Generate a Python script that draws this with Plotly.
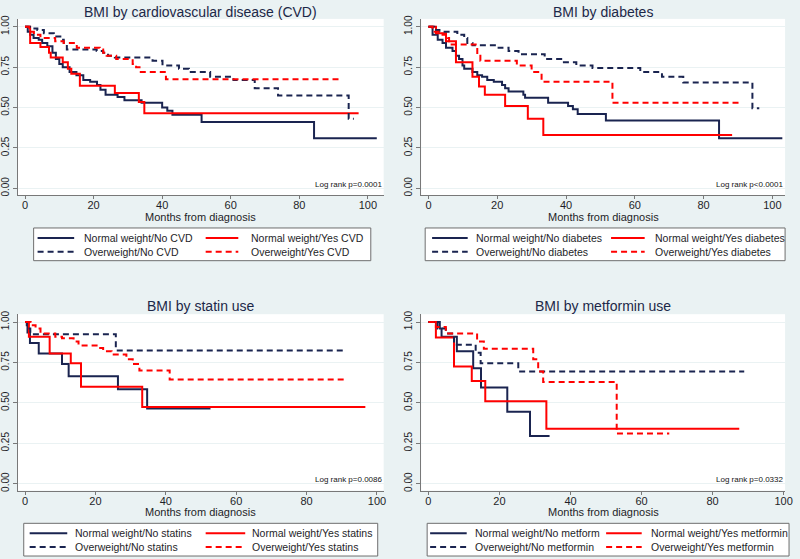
import plotly.graph_objects as go

# --- Data: Kaplan-Meier step curves (months, survival) ---
CVD_NW_NO_T = [0, 0.8, 1.5, 2.5, 4, 5, 6.5, 8, 9, 10, 11, 13, 15, 17, 19, 21, 22, 23.5, 27, 29, 34, 40, 41.5, 43, 51.5, 84.3, 102.6]
CVD_NW_NO_S = [1.0, 0.97, 0.95, 0.93, 0.92, 0.90, 0.88, 0.84, 0.80, 0.77, 0.75, 0.72, 0.70, 0.67, 0.66, 0.64, 0.61, 0.58, 0.565, 0.545, 0.53, 0.50, 0.48, 0.455, 0.41, 0.31, 0.31]
CVD_NW_YES_T = [0, 1.5, 4.5, 7, 7.5, 11, 12.5, 13.5, 16, 26.2, 33.2, 34.8, 97.3]
CVD_NW_YES_S = [1.0, 0.90, 0.875, 0.84, 0.81, 0.78, 0.74, 0.71, 0.635, 0.59, 0.535, 0.465, 0.465]
CVD_OW_NO_T = [0, 2, 3.6, 5.5, 8.4, 10.3, 11.3, 12.2, 20.9, 22.8, 24.2, 26.2, 37.2, 40.1, 44.9, 47.8, 54, 60.8, 67, 73.8, 94.4, 95.9]
CVD_OW_NO_S = [1.0, 0.99, 0.98, 0.96, 0.94, 0.92, 0.89, 0.86, 0.85, 0.84, 0.82, 0.81, 0.79, 0.76, 0.74, 0.72, 0.69, 0.67, 0.62, 0.575, 0.43, 0.43]
CVD_OW_YES_T = [0, 1.2, 2.6, 4.5, 8.8, 11.3, 15.1, 21.8, 22.8, 23.8, 26.6, 31.4, 32.4, 33.4, 41.1, 92]
CVD_OW_YES_S = [1.0, 0.97, 0.95, 0.93, 0.91, 0.90, 0.87, 0.86, 0.84, 0.82, 0.80, 0.77, 0.75, 0.72, 0.675, 0.675]

DM_NW_NO_T = [0, 1.2, 2.7, 4.1, 5.1, 7.0, 8.0, 8.9, 9.9, 10.4, 12.8, 14.2, 15.6, 17.1, 19.0, 21.4, 22.3, 23.3, 27.6, 28.1, 34.8, 40.6, 42.0, 43.4, 51.6, 84.5, 102.9]
DM_NW_NO_S = [1.0, 0.95, 0.92, 0.90, 0.87, 0.85, 0.82, 0.80, 0.76, 0.74, 0.72, 0.70, 0.69, 0.67, 0.66, 0.64, 0.62, 0.60, 0.58, 0.56, 0.53, 0.51, 0.49, 0.46, 0.42, 0.31, 0.31]
DM_NW_YES_T = [0, 2.2, 5.1, 8.0, 12.8, 14.7, 16.4, 22.3, 28.9, 33.4, 88.3]
DM_NW_YES_S = [1.0, 0.96, 0.91, 0.78, 0.69, 0.63, 0.58, 0.51, 0.43, 0.33, 0.33]
DM_OW_NO_T = [0, 1.7, 3.2, 8.4, 10.4, 11.3, 12.8, 20.4, 23.3, 26.2, 33.8, 38.6, 43.0, 47.7, 61.6, 67.9, 74.1, 94.2, 96.2]
DM_OW_NO_S = [1.0, 0.98, 0.97, 0.95, 0.93, 0.90, 0.885, 0.87, 0.85, 0.83, 0.80, 0.78, 0.76, 0.745, 0.72, 0.69, 0.655, 0.495, 0.495]
DM_OW_YES_T = [0, 1.2, 4.1, 5.6, 6.0, 14.2, 15.1, 25.7, 30.0, 32.9, 53.5, 90.4]
DM_OW_YES_S = [1.0, 0.97, 0.95, 0.93, 0.89, 0.82, 0.79, 0.76, 0.72, 0.66, 0.53, 0.53]

ST_NW_NO_T = [0, 0.7, 1.4, 3.9, 10.5, 12.4, 26.4, 34.7, 52.7]
ST_NW_NO_S = [1.0, 0.935, 0.87, 0.805, 0.74, 0.665, 0.585, 0.465, 0.465]
ST_NW_YES_T = [0, 1.1, 7.0, 13.0, 15.9, 33.3, 96.7]
ST_NW_YES_S = [1.0, 0.91, 0.805, 0.745, 0.60, 0.475, 0.475]
ST_OW_NO_T = [0, 0.5, 1.5, 25.8, 91.1]
ST_OW_NO_S = [1.0, 0.96, 0.925, 0.825, 0.825]
ST_OW_YES_T = [0, 1.6, 3.0, 4.4, 8.6, 10.5, 13.8, 15.2, 20.8, 22.2, 24.6, 28.8, 30.6, 32.5, 41.1, 91.1]
ST_OW_YES_S = [1.0, 0.98, 0.96, 0.93, 0.91, 0.90, 0.88, 0.855, 0.84, 0.82, 0.80, 0.77, 0.74, 0.70, 0.645, 0.645]

MF_NW_NO_T = [0, 3.2, 3.7, 8.0, 12.6, 14.8, 22.2, 28.6, 34.1]
MF_NW_NO_S = [1.0, 0.96, 0.91, 0.82, 0.715, 0.595, 0.445, 0.295, 0.295]
MF_NW_YES_T = [0, 2.1, 7.2, 12.2, 16.0, 33.2, 87.5]
MF_NW_YES_S = [1.0, 0.905, 0.725, 0.635, 0.51, 0.34, 0.34]
MF_OW_NO_T = [0, 2.6, 4.9, 7.2, 13.3, 14.7, 25.3, 88.9]
MF_OW_NO_S = [1.0, 0.96, 0.93, 0.86, 0.81, 0.745, 0.695, 0.695]
MF_OW_YES_T = [0, 2.1, 4.9, 13.7, 15.6, 29.5, 30.9, 32.3, 53.0, 67.8]
MF_OW_YES_S = [1.0, 0.97, 0.93, 0.88, 0.835, 0.77, 0.695, 0.63, 0.31, 0.31]

TITLES = ["BMI by cardiovascular disease (CVD)", "BMI by diabetes", "BMI by statin use", "BMI by metformin use"]
LOGRANK = ["Log rank p=0.0001", "Log rank p<0.0001", "Log rank p=0.0086", "Log rank p=0.0332"]
CVD_LABELS = ["Normal weight/No CVD", "Normal weight/Yes CVD", "Overweight/No CVD", "Overweight/Yes CVD"]
DM_LABELS = ["Normal weight/No diabetes", "Normal weight/Yes diabetes", "Overweight/No diabetes", "Overweight/Yes diabetes"]
ST_LABELS = ["Normal weight/No statins", "Normal weight/Yes statins", "Overweight/No statins", "Overweight/Yes statins"]
MF_LABELS = ["Normal weight/No metform", "Normal weight/Yes metformin", "Overweight/No metformin", "Overweight/Yes metformin"]
X_TICKS = [0, 20, 40, 60, 80, 100]
Y_TICKS = [0, 0.25, 0.5, 0.75, 1.0]
X_TITLE = "Months from diagnosis"

# --- Style ---
W, H = 800, 559
BG = 'rgb(234,242,243)'
NAVY = 'rgb(26,36,80)'
RED = 'rgb(255,0,0)'
AXIS_COLOR = 'rgb(120,120,120)'
GRID = 'rgb(234,242,243)'
TEXT = 'rgb(30,30,40)'
TITLE_COLOR = 'rgb(28,40,72)'
FONT = 'Arial, Liberation Sans, sans-serif'
DASH = '6px,4px'
STYLES = [(NAVY, 'solid'), (RED, 'solid'), (NAVY, DASH), (RED, DASH)]

curves = [
    [(CVD_NW_NO_T, CVD_NW_NO_S), (CVD_NW_YES_T, CVD_NW_YES_S), (CVD_OW_NO_T, CVD_OW_NO_S), (CVD_OW_YES_T, CVD_OW_YES_S)],
    [(DM_NW_NO_T, DM_NW_NO_S), (DM_NW_YES_T, DM_NW_YES_S), (DM_OW_NO_T, DM_OW_NO_S), (DM_OW_YES_T, DM_OW_YES_S)],
    [(ST_NW_NO_T, ST_NW_NO_S), (ST_NW_YES_T, ST_NW_YES_S), (ST_OW_NO_T, ST_OW_NO_S), (ST_OW_YES_T, ST_OW_YES_S)],
    [(MF_NW_NO_T, MF_NW_NO_S), (MF_NW_YES_T, MF_NW_YES_S), (MF_OW_NO_T, MF_OW_NO_S), (MF_OW_YES_T, MF_OW_YES_S)],
]
labels = [CVD_LABELS, DM_LABELS, ST_LABELS, MF_LABELS]

# panel geometry in pixels: plot box (left, top, right, bottom), x range
panels = [
    dict(box=(17, 15, 387, 193), xr=(-2.1, 104.6), title_y=8, xt_y=215,
         leg=(33, 226, 374, 259), cols=((37, 74, 82), (207, 240, 251)), rows=(236, 250)),
    dict(box=(425, 15, 793, 193), xr=(-2.1, 103.7), title_y=8, xt_y=215,
         leg=(429, 226, 793, 259), cols=((436, 472, 478), (617, 651, 659)), rows=(236, 250)),
    dict(box=(17, 313, 387, 491), xr=(-2.05, 101.9), title_y=305, xt_y=513,
         leg=(23, 524, 381, 557), cols=((29, 67, 73), (207, 247, 252)), rows=(534, 548)),
    dict(box=(425, 313, 793, 491), xr=(-2.03, 100.4), title_y=305, xt_y=513,
         leg=(431, 524, 797, 557), cols=((434, 471, 477), (612, 648, 655)), rows=(534, 548)),
]

def px(x):
    return x / W

def py(y):
    return 1 - y / H

fig = go.Figure()
shapes, annotations = [], []

for i, p in enumerate(panels):
    n = '' if i == 0 else str(i + 1)
    l, t, r, b = p['box']
    for (tt, ss), (color, dash), name in zip(curves[i], STYLES, labels[i]):
        fig.add_trace(go.Scatter(
            x=tt, y=ss, mode='lines', line=dict(color=color, width=2, dash=dash, shape='hv'),
            name=name, showlegend=False, xaxis='x' + n, yaxis='y' + n,
        ))

    fig.layout['xaxis' + n] = dict(
        domain=[px(l), px(r)], range=list(p['xr']), anchor='y' + n,
        tickvals=X_TICKS, ticks='outside', ticklen=3, tickcolor=AXIS_COLOR, ticklabelstandoff=-3,
        showline=True, linecolor=AXIS_COLOR, linewidth=1, showgrid=False, zeroline=False,
        tickfont=dict(size=11, color=TEXT, family=FONT),
    )
    fig.layout['yaxis' + n] = dict(
        domain=[py(b), py(t)], range=[-0.043, 1.049], anchor='x' + n,
        tickvals=Y_TICKS, tickformat='.2f', ticks='outside', ticklen=4, tickcolor=AXIS_COLOR,
        tickangle=-90, showline=True, linecolor=AXIS_COLOR, linewidth=1,
        showgrid=True, gridcolor=GRID, gridwidth=1, zeroline=False,
        tickfont=dict(size=10, color=TEXT, family=FONT),
    )

    # panel title
    annotations.append(dict(
        text=TITLES[i], xref='paper', yref='paper', x=px((l + r) / 2), y=py(p['title_y']),
        xanchor='center', yanchor='middle', showarrow=False,
        font=dict(size=14, color=TITLE_COLOR, family=FONT),
    ))
    # x axis title, placed tight under the tick labels as in the original
    annotations.append(dict(
        text=X_TITLE, xref='paper', yref='paper', x=px((l + r) / 2), y=py(p['xt_y']),
        xanchor='center', yanchor='middle', showarrow=False,
        font=dict(size=11, color=TEXT, family=FONT),
    ))
    # log-rank note
    annotations.append(dict(
        text=LOGRANK[i], xref='x' + n + ' domain', yref='y' + n, x=1, y=0,
        xanchor='right', yanchor='middle', yshift=4, showarrow=False,
        font=dict(size=8, color='rgb(20,20,20)', family=FONT),
    ))

    # legend box
    lx0, ly0, lx1, ly1 = p['leg']
    shapes.append(dict(type='rect', xref='paper', yref='paper',
                       x0=px(lx0), x1=px(lx1), y0=py(ly1), y1=py(ly0),
                       line=dict(color='rgb(110,110,110)', width=1), fillcolor='white', layer='below'))
    for k, (name, (color, dash)) in enumerate(zip(labels[i], STYLES)):
        c0, c1, tx = p['cols'][k % 2]
        ry = p['rows'][k // 2]
        shapes.append(dict(type='line', xref='paper', yref='paper',
                           x0=px(c0), x1=px(c1), y0=py(ry), y1=py(ry),
                           line=dict(color=color, width=2, dash=dash)))
        annotations.append(dict(
            text=name, xref='paper', yref='paper', x=px(tx), y=py(ry),
            xanchor='left', yanchor='middle', showarrow=False,
            font=dict(size=10.5, color=TEXT, family=FONT),
        ))

fig.update_layout(
    width=W, height=H, margin=dict(l=0, r=0, t=0, b=0),
    paper_bgcolor=BG, plot_bgcolor='white',
    shapes=shapes, annotations=annotations, showlegend=False,
    font=dict(family=FONT),
)

# the page's default body margin would shift the fixed-size figure; drop it
fig.write_html("out.html", config={'displayModeBar': False},
               post_script="document.body.style.margin='0';")
